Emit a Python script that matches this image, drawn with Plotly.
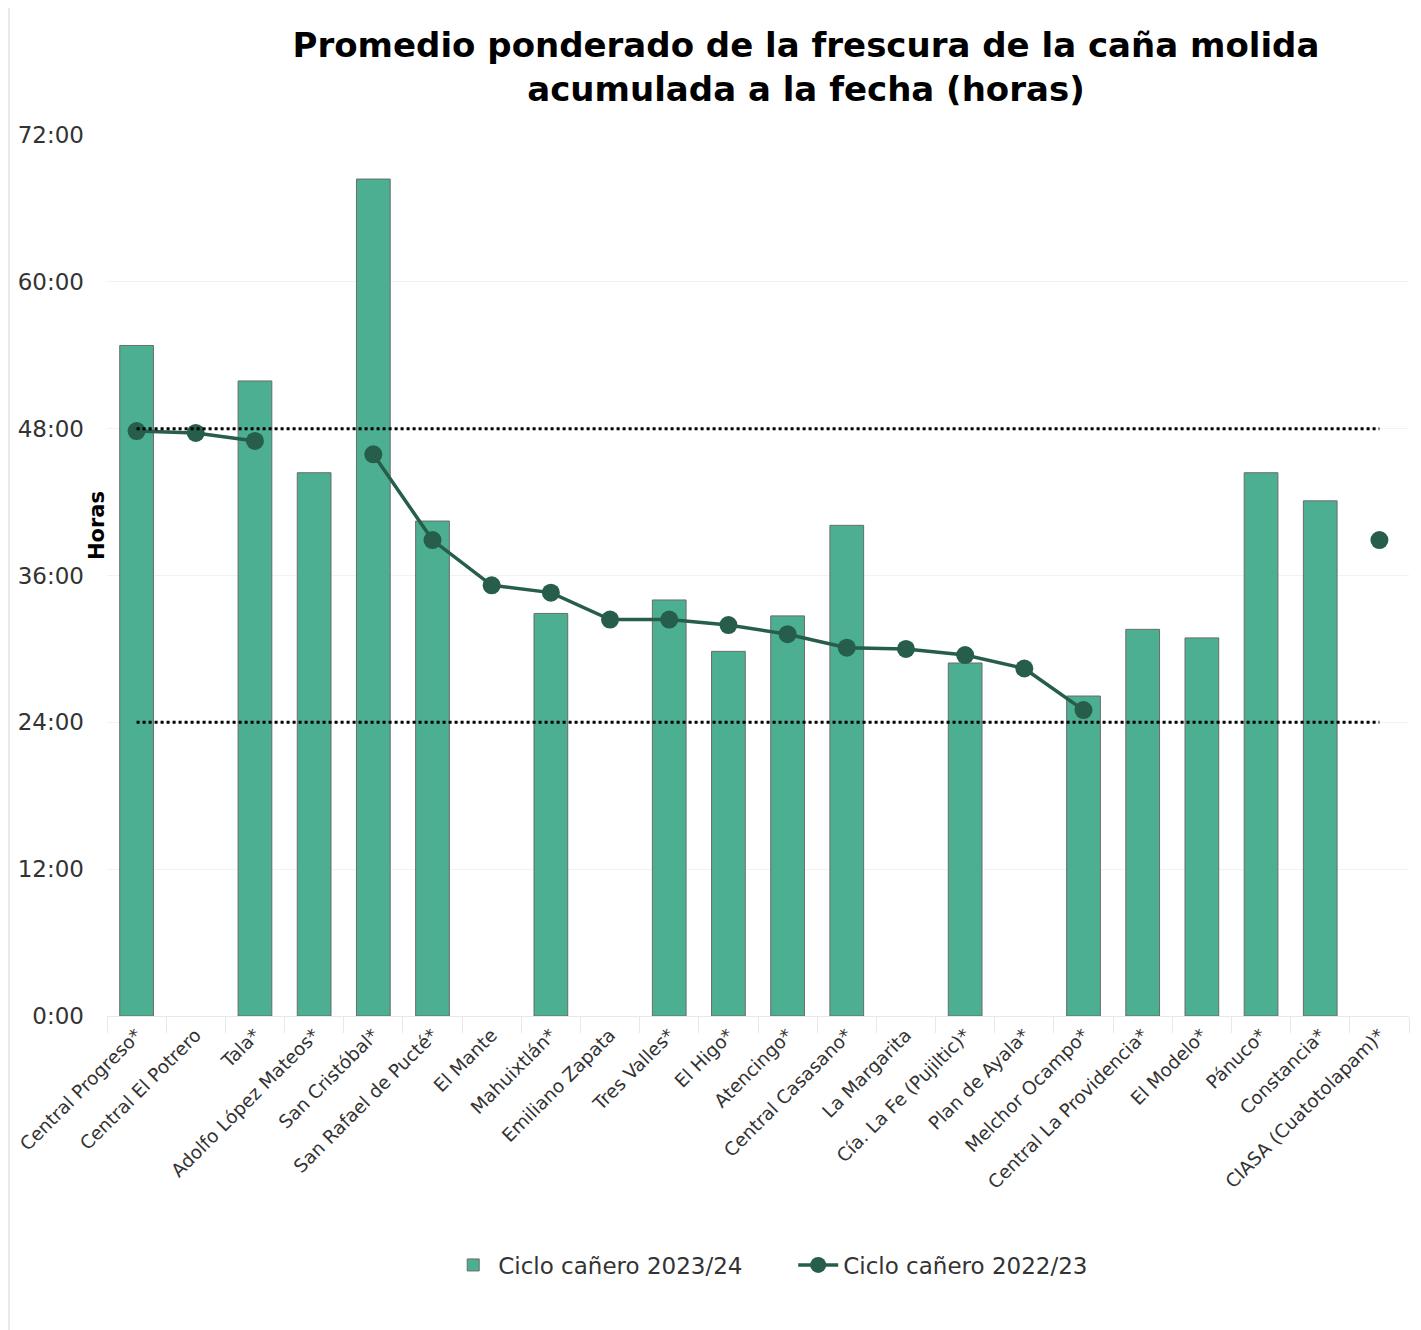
import plotly.graph_objects as go

categories = ["Central Progreso*", "Central El Potrero", "Tala*", "Adolfo López Mateos*",
              "San Cristóbal*", "San Rafael de Pucté*", "El Mante", "Mahuixtlán*",
              "Emiliano Zapata", "Tres Valles*", "El Higo*", "Atencingo*",
              "Central Casasano*", "La Margarita", "Cía. La Fe (Pujiltic)*", "Plan de Ayala*",
              "Melchor Ocampo*", "Central La Providencia*", "El Modelo*", "Pánuco*",
              "Constancia*", "CIASA (Cuatotolapam)*"]

ciclo_2023_24 = [54.8, None, 51.9, 44.4, 68.4, 40.45, None, 32.9, None, 34.0, 29.8, 32.7,
                 40.1, None, 28.85, None, 26.15, 31.6, 30.9, 44.4, 42.1, None]

ciclo_2022_23 = [47.8, 47.65, 47.0, None, 45.9, 38.9, 35.2, 34.6, 32.4, 32.4, 31.95, 31.2,
                 30.1, 30.0, 29.5, 28.4, 25.0, None, None, None, None, 38.9]

ref_upper = 48
ref_lower = 24

y_tickvals = [0, 12, 24, 36, 48, 60, 72]
y_ticktext = ["0:00", "12:00", "24:00", "36:00", "48:00", "60:00", "72:00"]

FONT = "DejaVu Sans"
OFF = 8  # page body margin
W, H = 1421 - OFF, 1330 - OFF
L, T = 107 - OFF, 135 - OFF
R = W - (1408.6 - OFF)
B = H - (1016 - OFF)
PW, PH = W - L - R, H - T - B


def px_x(sx):
    return (sx - OFF - L) / PW


def px_y(sy):
    return (H - B - (sy - OFF)) / PH


fig = go.Figure()
fig.add_trace(go.Bar(
    x=categories, y=ciclo_2023_24, name="Ciclo cañero 2023/24",
    marker=dict(color="#4caf91", line=dict(color="#6b6b6b", width=1)),
    width=0.57,
))
fig.add_trace(go.Scatter(
    x=categories, y=ciclo_2022_23, name="Ciclo cañero 2022/23",
    mode="lines+markers", connectgaps=False,
    line=dict(color="#265e4b", width=3.5),
    marker=dict(color="#265e4b", size=18),
))
fig.add_trace(go.Scatter(
    x=[categories[0], categories[-1]], y=[ref_upper, ref_upper], mode="lines",
    line=dict(color="black", width=3, dash="dot"), showlegend=False, hoverinfo="skip",
))
fig.add_trace(go.Scatter(
    x=[categories[0], categories[-1]], y=[ref_lower, ref_lower], mode="lines",
    line=dict(color="black", width=3, dash="dot"), showlegend=False, hoverinfo="skip",
))

fig.update_layout(
    width=W, height=H,
    paper_bgcolor="white", plot_bgcolor="white",
    font=dict(family=FONT, size=18, color="#333333"),
    margin=dict(l=L, r=R, t=T, b=B, autoexpand=False),
    title=dict(
        text="<b>Promedio ponderado de la frescura de la caña molida<br>acumulada a la fecha (horas)</b>",
        x=(806 - OFF) / W, xanchor="center", y=1 - 49 / H, yanchor="top",
        font=dict(family=FONT, size=34, color="black"),
    ),
    showlegend=True,
    legend=dict(orientation="h", x=px_x(793), xanchor="center",
                y=px_y(1265), yanchor="middle",
                font=dict(family=FONT, size=23, color="#333333"),
                itemwidth=40, tracegroupgap=0, entrywidth=290),
    bargap=0.43,
)
fig.update_xaxes(
    type="category", range=[-0.5, len(categories) - 0.5], tickangle=-45,
    showgrid=False, automargin=False,
    showline=True, linecolor="#e8e8e8", linewidth=1,
    ticks="outside", tickson="boundaries", ticklen=16, tickcolor="#e8e8e8",
    tickfont=dict(family=FONT, size=18.5, color="#333333"),
)
fig.update_yaxes(
    range=[0, 72], tickvals=y_tickvals, ticktext=y_ticktext, automargin=False,
    showgrid=True, gridcolor="#f2f2f2", zeroline=False, showline=False,
    ticks="", ticklabelstandoff=22,
    tickfont=dict(family=FONT, size=23, color="#333333"),
)
fig.add_annotation(
    text="<b>Horas</b>", xref="paper", yref="paper", x=px_x(97), y=px_y(525),
    xanchor="center", yanchor="middle", textangle=-90, showarrow=False,
    font=dict(family=FONT, size=21, color="black"),
)
fig.add_shape(type="rect", xref="paper", yref="paper",
              x0=px_x(9), x1=px_x(1418), y0=-1, y1=2,
              line=dict(color="#dfe5ec", width=1.5), layer="below")

fig.write_html("out.html")
